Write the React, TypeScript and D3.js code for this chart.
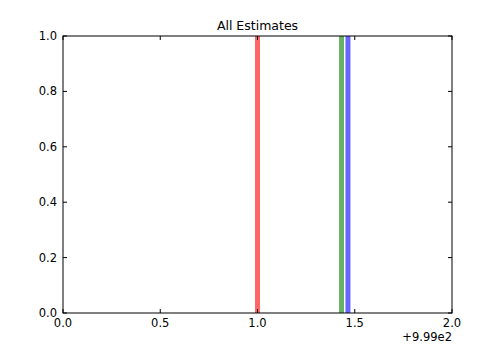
import React from "react";
import * as d3 from "d3";

const xTicks = [0.0, 0.5, 1.0, 1.5, 2.0];
const yTicks = [0.0, 0.2, 0.4, 0.6, 0.8, 1.0];
const estimateNames = ["red", "green", "blue"];
const estimateValues = [1.0, 1.432, 1.465];
const estimateColors = ["#ff0000", "#008000", "#0000ff"];

export default function App() {
  const W = 502, H = 359;
  const left = 63, right = 452, top = 36, bottom = 313;
  const x = d3.scaleLinear().domain([0, 2]).range([left, right]);
  const y = d3.scaleLinear().domain([0, 1]).range([bottom, top]);
  const font = "DejaVu Sans, sans-serif";
  const tl = 4;
  return (
    <svg width={W} height={H} style={{ position: "absolute", left: 0, top: 0, background: "#fff" }}>
      <rect x={0} y={0} width={W} height={H} fill="#fff" />
      {estimateValues.map((v, i) => (
        <line key={estimateNames[i]} x1={x(v)} x2={x(v)} y1={y(0)} y2={y(1)}
          stroke={estimateColors[i]} strokeOpacity={0.6} strokeWidth={5} />
      ))}
      <rect x={left} y={top} width={right - left} height={bottom - top} fill="none" stroke="#000" strokeWidth={1} />
      {xTicks.map((t) => (
        <g key={"x" + t}>
          <line x1={x(t)} x2={x(t)} y1={bottom} y2={bottom - tl} stroke="#000" />
          <line x1={x(t)} x2={x(t)} y1={top} y2={top + tl} stroke="#000" />
          <text x={x(t)} y={bottom + 14} fontSize={11.5} fontFamily={font} textAnchor="middle">{t.toFixed(1)}</text>
        </g>
      ))}
      {yTicks.map((t) => (
        <g key={"y" + t}>
          <line x1={left} x2={left + tl} y1={y(t)} y2={y(t)} stroke="#000" />
          <line x1={right} x2={right - tl} y1={y(t)} y2={y(t)} stroke="#000" />
          <text x={left - 6} y={y(t) + 4} fontSize={11.5} fontFamily={font} textAnchor="end">{t.toFixed(1)}</text>
        </g>
      ))}
      <text x={right} y={bottom + 28} fontSize={11.5} fontFamily={font} textAnchor="end">+9.99e2</text>
      <text x={(left + right) / 2} y={top - 6} fontSize={12.5} fontFamily={font} textAnchor="middle">All Estimates</text>
    </svg>
  );
}
